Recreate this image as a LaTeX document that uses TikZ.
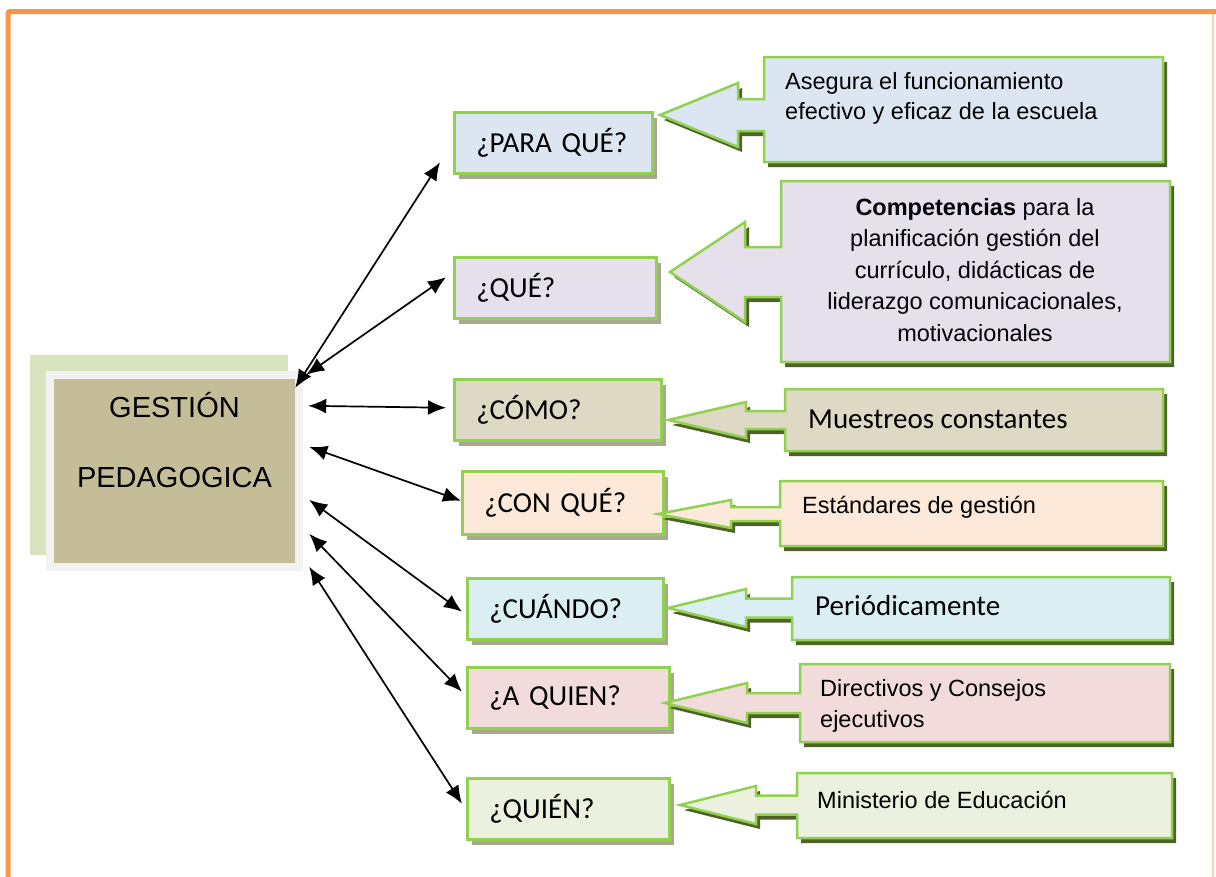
\documentclass[tikz,border=0pt]{standalone}
\usepackage{fontspec}
\setmainfont{Liberation Sans}
\newfontfamily\calibfont{Carlito}
\usepackage{tikz}
\usetikzlibrary{arrows.meta}
\usetikzlibrary{shadows}
\definecolor{frameorange}{HTML}{F79646}
\definecolor{framepale}{HTML}{FBD5B5}
\definecolor{gback}{HTML}{D7E4BD}
\definecolor{gframe}{HTML}{F2F2F2}
\definecolor{gtan}{HTML}{C4BD97}
\definecolor{qborder}{HTML}{92D050}
\definecolor{qshade}{HTML}{A6A88F}
\definecolor{cshade}{HTML}{4F6228}
\definecolor{fblue}{HTML}{DCE6F2}
\definecolor{flav}{HTML}{E5E0EC}
\definecolor{ftan}{HTML}{DDD9C4}
\definecolor{fpeach}{HTML}{FDE9D9}
\definecolor{fcyan}{HTML}{DBEEF4}
\definecolor{fpink}{HTML}{F2DCDB}
\definecolor{fgreen}{HTML}{EBF1DE}
\tikzstyle{gbox} = [rectangle, fill=gtan, inner sep=0pt, minimum width=241pt, minimum height=184pt]
\tikzstyle{gtext} = [align=center, font=\fontsize{29}{70}\selectfont]
\tikzstyle{qbox} = [rectangle, draw=qborder, line width=2.5pt, anchor=north west, align=left,
    inner xsep=22pt, inner ysep=0pt, minimum height=61pt, font=\calibfont\fontsize{29}{34}\selectfont,
    general shadow={shadow xshift=5pt, shadow yshift=-6pt, fill=qshade}]
\tikzstyle{ctext} = [inner sep=0pt, font=\fontsize{23.5}{30}\selectfont]
\tikzstyle{cline} = [draw=qborder, line width=2.5pt, line join=miter]
\tikzstyle{dbl} = [{Latex[length=18pt,width=15pt]}-{Latex[length=18pt,width=15pt]}, line width=1.7pt]
% colour, left, top, right, bottom, tip x, head x, centre y, head half width
\newcommand{\infoarrow}[9]{%
  \fill[cshade, shift={(4,5)}] (#2,#3) -- (#4,#3) -- (#4,#5) -- (#2,#5) -- (#2,{#8+#9/2}) -- (#7,{#8+#9/2})
    -- (#7,{#8+#9}) -- (#6,#8) -- (#7,{#8-#9}) -- (#7,{#8-#9/2}) -- (#2,{#8-#9/2}) -- cycle;
  \path[cline, fill=#1] (#2,#3) -- (#4,#3) -- (#4,#5) -- (#2,#5) -- (#2,{#8+#9/2}) -- (#7,{#8+#9/2})
    -- (#7,{#8+#9}) -- (#6,#8) -- (#7,{#8-#9}) -- (#7,{#8-#9/2}) -- (#2,{#8-#9/2}) -- cycle;
}

\begin{document}
\begin{tikzpicture}[x=1pt,y=-1pt]
    \useasboundingbox (0,0) rectangle (1216,876);
    % Frame
    \draw[framepale, line width=1.5pt] (1213,14) -- (1213,890);
    \draw[frameorange, line width=5pt, rounded corners=2pt] (8,890) -- (8,11.5) -- (1230,11.5);
    % Main box
    \fill[gback] (30,355) rectangle (288,555);
    \fill[gframe] (46,371) rectangle (303,571);
    \node[gbox] (gestion) at (174.5,471) {};
    \node[gtext] (gtitle) at (174.5,440) {GESTIÓN\\PEDAGOGICA};
    % Questions
    \node[qbox, fill=fblue, text width=154pt] (para) at (453,111) {¿PARA QUÉ?};
    \node[qbox, fill=flav, text width=158pt] (que) at (453,256) {¿QUÉ?};
    \node[qbox, fill=ftan, text width=163pt] (como) at (453,378) {¿CÓMO?};
    \node[qbox, fill=fpeach, text width=157pt, minimum height=63pt] (conque) at (461,470) {¿CON QUÉ?};
    \node[qbox, fill=fcyan, text width=152pt] (cuando) at (466,577) {¿CUÁNDO?};
    \node[qbox, fill=fpink, text width=158pt] (aquien) at (466,666) {¿A QUIEN?};
    \node[qbox, fill=fgreen, text width=158pt] (quien) at (466,777) {¿QUIÉN?};
    % Answers
    \infoarrow{fblue}{764}{57}{1163}{162}{660}{738}{115}{32}
    \infoarrow{flav}{781}{181}{1170}{362}{670}{745}{272}{50}
    \infoarrow{ftan}{785}{389}{1163}{451}{668}{746}{420}{18}
    \infoarrow{fpeach}{780}{481}{1163}{546}{658}{731}{514}{14}
    \infoarrow{fcyan}{792}{577}{1170}{640}{668}{746}{608}{19}
    \infoarrow{fpink}{800}{664}{1170}{742}{665}{747}{703}{20}
    \infoarrow{fgreen}{797}{773}{1172}{838}{680}{756}{805}{19}
    \node[ctext, anchor=west, align=left] (asegura) at (785,98) {Asegura el funcionamiento\\efectivo y eficaz de la escuela};
    \node[ctext, align=center, font=\fontsize{23.5}{31.5}\selectfont] (compet) at (975,270)
        {\textbf{Competencias} para la\\planificación gestión del\\currículo, didácticas de\\liderazgo comunicacionales,\\motivacionales};
    \node[ctext, anchor=west, font=\calibfont\fontsize{29}{34}\selectfont] (muestreos) at (808,419) {Muestreos constantes};
    \node[ctext, anchor=west] (estandares) at (802,507) {Estándares de gestión};
    \node[ctext, anchor=west, font=\calibfont\fontsize{29}{34}\selectfont] (periodic) at (815,606) {Periódicamente};
    \node[ctext, anchor=west, align=left, font=\fontsize{23.5}{31}\selectfont] (directivos) at (820,705.5) {Directivos y Consejos\\ejecutivos};
    \node[ctext, anchor=west] (ministerio) at (817,800) {Ministerio de Educación};
    % Draw edges
    \draw[dbl] ([yshift=-9pt]gestion.north east) -- ([xshift=-13pt,yshift=-19.5pt]para.west);
    \draw[dbl] ([xshift=11pt,yshift=4pt]gestion.north east) -- ([xshift=-7pt,yshift=10.5pt]que.west);
    \draw[dbl] ([xshift=13pt,yshift=-27pt]gestion.north east) -- ([xshift=-7pt,yshift=2pt]como.west);
    \draw[dbl] ([xshift=14pt,yshift=-68pt]gestion.north east) -- ([yshift=2pt]conque.west);
    \draw[dbl] ([xshift=14pt,yshift=-121pt]gestion.north east) -- ([xshift=-4pt,yshift=-3pt]cuando.west);
    \draw[dbl] ([xshift=14pt,yshift=-155pt]gestion.north east) -- ([xshift=-4pt,yshift=6pt]aquien.west);
    \draw[dbl] ([xshift=14pt,yshift=-188pt]gestion.north east) -- ([xshift=-4pt,yshift=5pt]quien.west);
\end{tikzpicture}
\end{document}
